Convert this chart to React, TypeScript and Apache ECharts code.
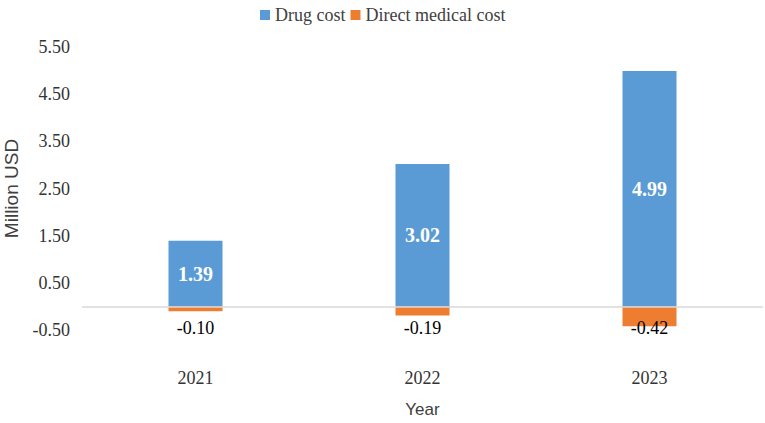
import React, { useEffect, useRef } from "react";
import * as echarts from "echarts";

const years = ["2021", "2022", "2023"];
const drugCost = [1.39, 3.02, 4.99];
const directMedicalCost = [-0.1, -0.19, -0.42];
const seriesNames = ["Drug cost", "Direct medical cost"];
const yTickLabels = ["-0.50", "0.50", "1.50", "2.50", "3.50", "4.50", "5.50"];

const SERIF = "Liberation Serif";
const SANS = "Liberation Sans";

export default function App() {
  const ref = useRef<HTMLDivElement>(null);
  useEffect(() => {
    if (!ref.current) return;
    const chart = echarts.init(ref.current, undefined, { renderer: "svg" });
    chart.setOption({
      animation: false,
      backgroundColor: "#ffffff",
      textStyle: { fontFamily: SERIF, fontSize: 18, color: "#333333" },
      legend: {
        top: 1,
        left: 255,
        icon: "rect",
        itemWidth: 10,
        itemHeight: 10,
        itemGap: 5,
        data: seriesNames,
        textStyle: { fontFamily: SERIF, fontSize: 18, color: "#404040" },
      },
      grid: { left: 82, right: 2, top: 47, bottom: 93, containLabel: false, outerBoundsMode: "none" },
      xAxis: {
        type: "category",
        data: years,
        position: "bottom",
        axisLine: { show: false, onZero: false },
        axisTick: { show: false },
        axisLabel: {
          show: true,
          margin: 39,
          fontFamily: SERIF,
          fontSize: 18,
          color: "#333333",
        },
        name: "Year",
        nameLocation: "middle",
        nameGap: 71,
        nameTextStyle: { fontFamily: SANS, fontSize: 17, color: "#404040" },
      },
      yAxis: {
        type: "value",
        min: -0.5,
        max: 5.5,
        interval: 0.5,
        splitLine: { show: false },
        axisLine: { show: false },
        axisTick: { show: false },
        axisLabel: {
          show: true,
          margin: 12,
          fontFamily: SERIF,
          fontSize: 18,
          color: "#333333",
          formatter: (v: number) => {
            const s = v.toFixed(2);
            return yTickLabels.includes(s) ? s : "";
          },
        },
        name: "Million USD",
        nameLocation: "middle",
        nameGap: 61,
        nameRotate: 90,
        nameTextStyle: { fontFamily: SANS, fontSize: 19, color: "#404040" },
      },
      series: [
        {
          name: seriesNames[0],
          type: "bar",
          stack: "total",
          barWidth: 54,
          data: drugCost,
          itemStyle: { color: "#5B9BD5" },
          label: {
            show: true,
            position: "inside",
            color: "#ffffff",
            fontWeight: "bold",
            fontFamily: SERIF,
            fontSize: 20,
            formatter: (p: any) => p.value.toFixed(2),
          },
          markLine: {
            silent: true,
            symbol: "none",
            label: { show: false },
            lineStyle: { color: "#d9d9d9", width: 1.5, type: "solid" },
            data: [{ yAxis: 0 }],
          },
        },
        {
          name: seriesNames[1],
          type: "bar",
          stack: "total",
          barWidth: 54,
          data: directMedicalCost,
          itemStyle: { color: "#ED7D31" },
          label: {
            show: true,
            position: ["50%", 22],
            align: "center",
            verticalAlign: "middle",
            color: "#000000",
            fontFamily: SERIF,
            fontSize: 18,
            formatter: (p: any) => p.value.toFixed(2),
          },
        },
      ],
    });
    return () => chart.dispose();
  }, []);
  return <div ref={ref} style={{ width: 765, height: 423, position: "absolute", left: 0, top: 0 }} />;
}
